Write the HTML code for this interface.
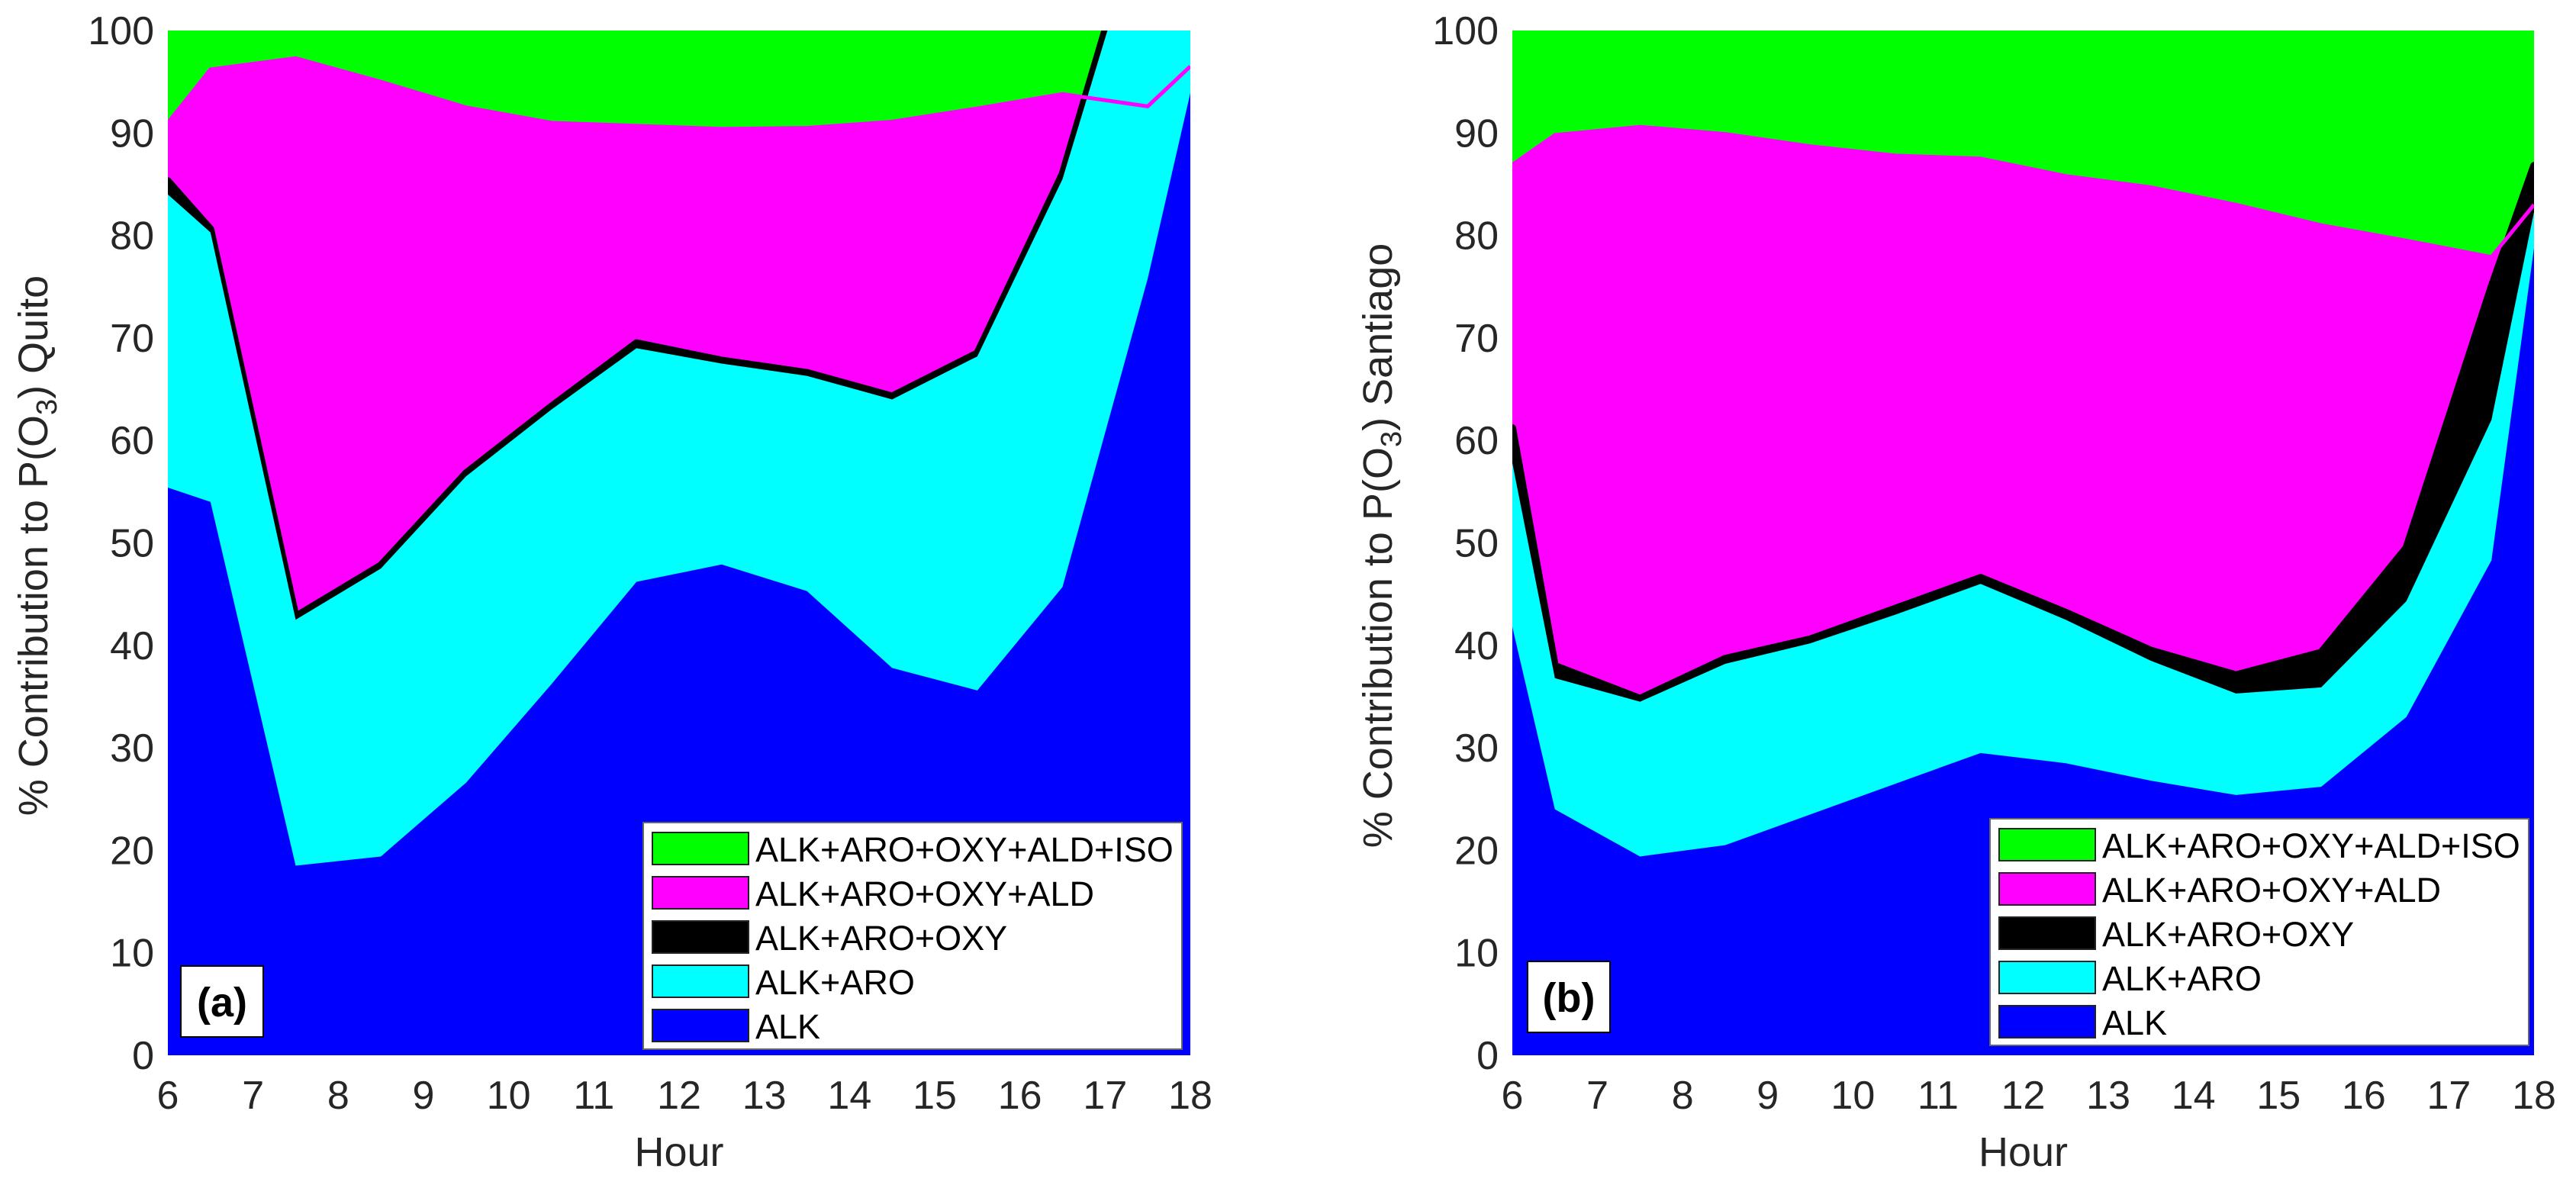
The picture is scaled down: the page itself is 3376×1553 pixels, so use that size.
<!DOCTYPE html>
<html><head><meta charset="utf-8"><style>
body{margin:0;background:#fff;}
svg{display:block;font-family:"Liberation Sans",Arial,sans-serif;}
</style></head><body>
<svg id="chart" width="3376" height="1553" viewBox="0 0 3376 1553" xmlns="http://www.w3.org/2000/svg"></svg>
<script>
const hours = [6,6.5,7.5,8.5,9.5,10.5,11.5,12.5,13.5,14.5,15.5,16.5,17.5,18];
const seriesNames = ["ALK+ARO+OXY+ALD+ISO","ALK+ARO+OXY+ALD","ALK+ARO+OXY","ALK+ARO","ALK"];
const seriesColors = ["#00ff00","#ff00ff","#000000","#00ffff","#0000ff"];
const xTicks = [6,7,8,9,10,11,12,13,14,15,16,17,18];
const yTicks = [0,10,20,30,40,50,60,70,80,90,100];

const quitoISO = [100,100,100,100,100,100,100,100,100,100,100,100,100,100];
const quitoALD = [91,96.2,97.3,95,92.5,91,90.7,90.4,90.5,91.1,92.4,93.8,92.6,96.5];
const quitoOXY = [85.3,80.6,42.8,47.8,56.8,63.3,69.5,67.8,66.6,64.3,68.5,86,114,100];
const quitoARO = [84,80.3,42.5,47.5,56.5,63,69,67.5,66.3,64,68.2,85.5,113,100];
const quitoALK = [55.4,54,18.5,19.4,26.6,36.2,46.2,47.9,45.3,37.8,35.6,45.7,75.8,93.9];

const santISO = [100,100,100,100,100,100,100,100,100,100,100,100,100,100];
const santALD = [86.9,89.8,90.6,89.9,88.7,87.8,87.5,85.8,84.7,83,81,79.5,77.9,83];
const santOXY = [61.2,38,34.8,38.7,40.6,43.6,46.6,43.2,39.5,37.1,39.3,49.5,75,86.8];
const santARO = [57.8,36.8,34.5,38.2,40.2,43,46,42.5,38.5,35.3,35.9,44.3,62,82.3];
const santALK = [41.8,24,19.4,20.5,23.5,26.5,29.5,28.5,26.8,25.4,26.2,33,48.3,78.8];

const NS="http://www.w3.org/2000/svg";
const svg=document.getElementById('chart');
function mk(tag,attrs,parent){const e=document.createElementNS(NS,tag);for(const k in attrs)e.setAttribute(k,attrs[k]);(parent||svg).appendChild(e);return e;}

function panel(id,L,R,T,B,series,ytitle,tag,leg,box){
  const g=mk('g',{});
  
  
  const xs=h=>L+(h-6)/12*(R-L);
  const ys=v=>B-v/100*(B-T);
  const cp=mk('clipPath',{id:'clip-'+id},g);
  mk('rect',{x:L,y:T,width:R-L,height:B-T},cp);
  const pg=mk('g',{'clip-path':'url(#clip-'+id+')'},g);
  series.forEach((vals,i)=>{
    let d='M'+xs(hours[0])+','+ys(0);
    hours.forEach((h,j)=>{d+=' L'+xs(h)+','+ys(vals[j]);});
    d+=' L'+xs(hours[hours.length-1])+','+ys(0)+' Z';
    const p=mk('path',{d:d,fill:seriesColors[i],stroke:i===2?'#000':'none','stroke-width':i===2?10:0,'stroke-linejoin':'round'},pg);
    
    
  });
  let dl='';
  hours.forEach((h,j)=>{dl+=(j?' L':'M')+xs(h)+','+ys(series[1][j]);});
  const ml=mk('path',{d:dl,fill:'none',stroke:'#ff00ff','stroke-width':5},pg);
  
  
  yTicks.forEach(v=>{
    const t=mk('text',{x:L-18,y:ys(v)+18,'text-anchor':'end','font-size':52,fill:'#262626'},g);
    t.textContent=v;
    
    
  });
  xTicks.forEach(v=>{
    const t=mk('text',{x:xs(v),y:B+70,'text-anchor':'middle','font-size':52,fill:'#262626'},g);
    t.textContent=v;
    
    
  });
  const xt=mk('text',{x:(L+R)/2,y:1528,'text-anchor':'middle','font-size':54,fill:'#262626'},g);
  xt.textContent='Hour';
  
  
  const yt=mk('text',{x:0,y:0,'text-anchor':'middle','font-size':54,fill:'#262626',transform:'translate('+(ytitle.x)+',715) rotate(-90)'},g);
  
  
  const a=mk('tspan',{},yt);a.textContent='% Contribution to P(O';
  const s=mk('tspan',{'font-size':38,dy:12},yt);s.textContent='3';
  const c=mk('tspan',{dy:-12},yt);c.textContent=') '+ytitle.city;
  const tb=mk('rect',{x:box.x,y:box.y,width:108,height:93,fill:'#fff',stroke:'#000','stroke-width':2},g);
  
  
  const tt=mk('text',{x:box.x+54,y:box.y+66,'text-anchor':'middle','font-size':54,'font-weight':'bold',fill:'#000'},g);
  tt.textContent=tag;
  
  
  const lg=mk('g',{},g);
  
  
  mk('rect',{x:leg.x,y:leg.y,width:706,height:297,fill:'#fff',stroke:'#666','stroke-width':2},lg);
  seriesNames.forEach((n,i)=>{
    const y0=leg.y+13+i*58;
    const sw=mk('rect',{x:leg.x+12,y:y0,width:126,height:42,fill:seriesColors[i],stroke:'#222','stroke-width':2},lg);
    
    
    const lt=mk('text',{x:leg.x+147,y:y0+38,'font-size':45,fill:'#000'},lg);
    lt.textContent=n;
    
    
  });
}
panel('quito',220,1560,40,1383,[quitoISO,quitoALD,quitoOXY,quitoARO,quitoALK],{x:62,city:'Quito'},'(a)',{x:843,y:1078},{x:237,y:1266});
panel('santiago',1982,3321,40,1383,[santISO,santALD,santOXY,santARO,santALK],{x:1824,city:'Santiago'},'(b)',{x:2608,y:1073},{x:2002,y:1260});
</script>
</body></html>
